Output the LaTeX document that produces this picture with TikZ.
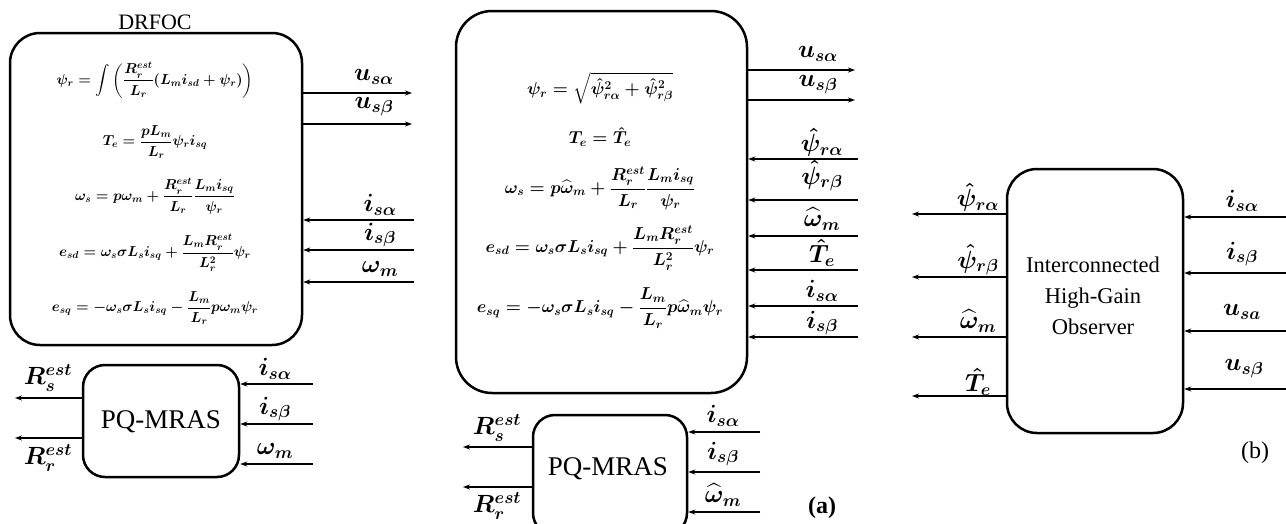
\documentclass[tikz,border=0pt]{standalone}
\usepackage{fontspec}
\setmainfont{Liberation Serif}
\usepackage{amsmath}
\usetikzlibrary{arrows.meta}
\begin{document}
\begin{tikzpicture}[x=1pt,y=-1pt,
 blk/.style={draw, line width=2.5pt, rounded corners=30pt, inner sep=0pt},
 arr/.style={line width=1.9pt, -{Stealth[length=7pt,width=5pt]}},
 lbl/.style={font=\fontsize{24}{26}\selectfont\boldmath, inner sep=0pt},
 eqL/.style={font=\fontsize{14.6}{18}\selectfont\boldmath, inner sep=0pt},
 eqM/.style={font=\fontsize{16.6}{20}\selectfont\boldmath, inner sep=0pt},
 ttl/.style={font=\fontsize{22}{30}\selectfont, inner sep=0pt, align=center},
 pq/.style={font=\fontsize{27}{30}\selectfont, inner sep=0pt},
]
\useasboundingbox (0,0) rectangle (1286,523);
\clip (0,0) rectangle (1286,523);

% ---------------- Left: DRFOC ----------------
\node[blk, minimum width=292pt, minimum height=312pt] (drfoc) at (156,189) {};
\node[ttl] (drfocT) at (155,22) {DRFOC};
\node[eqL] (l1) at (155,80) {$\displaystyle \psi_r=\int\left(\frac{R_r^{est}}{L_r}(L_m i_{sd}+\psi_r)\right)$};
\node[eqL] (l2) at (155,142) {$\displaystyle T_e=\frac{pL_m}{L_r}\psi_r i_{sq}$};
\node[eqL] (l3) at (155,196) {$\displaystyle \omega_s=p\omega_m+\frac{R_r^{est}}{L_r}\frac{L_m i_{sq}}{\psi_r}$};
\node[eqL] (l4) at (155,253) {$\displaystyle e_{sd}=\omega_s\sigma L_s i_{sq}+\frac{L_m R_r^{est}}{L_r^2}\psi_r$};
\node[eqL] (l5) at (155,308) {$\displaystyle e_{sq}=-\omega_s\sigma L_s i_{sq}-\frac{L_m}{L_r}p\omega_m\psi_r$};

\coordinate (Lo1) at (412,93);
\coordinate (Lo2) at (412,124);
\coordinate (Li1) at (414,220);
\coordinate (Li2) at (414,250);
\coordinate (Li3) at (414,282);
\draw[arr] (drfoc.east |- Lo1) -- (Lo1);
\draw[arr] (drfoc.east |- Lo2) -- (Lo2);
\draw[arr] (Li1) -- (drfoc.east |- Li1);
\draw[arr] (Li2) -- (drfoc.east |- Li2);
\draw[arr] (Li3) -- (drfoc.east |- Li3);
\node[lbl] (Lo1t) at (374,77) {$u_{s\alpha}$};
\node[lbl] (Lo2t) at (374,107) {$u_{s\beta}$};
\node[lbl] (Li1t) at (380,205) {$i_{s\alpha}$};
\node[lbl] (Li2t) at (380,235) {$i_{s\beta}$};
\node[lbl] (Li3t) at (380,269) {$\omega_m$};

% ---------------- Left: PQ-MRAS ----------------
\node[blk, rounded corners=22pt, minimum width=156pt, minimum height=112pt] (pqL) at (161,421) {};
\node[pq] (pqLt) at (161,422) {PQ-MRAS};
\coordinate (PLo1) at (15,398);
\coordinate (PLo2) at (15,438);
\draw[arr] (pqL.west |- PLo1) -- (PLo1);
\draw[arr] (pqL.west |- PLo2) -- (PLo2);
\node[lbl] (PLo1t) at (48,378) {$R_s^{est}$};
\node[lbl] (PLo2t) at (48,458) {$R_r^{est}$};
\coordinate (PLi1) at (313,384);
\coordinate (PLi2) at (313,424);
\coordinate (PLi3) at (313,464);
\draw[arr] (PLi1) -- (pqL.east |- PLi1);
\draw[arr] (PLi2) -- (pqL.east |- PLi2);
\draw[arr] (PLi3) -- (pqL.east |- PLi3);
\node[lbl] (PLi1t) at (275,369) {$i_{s\alpha}$};
\node[lbl] (PLi2t) at (275,409) {$i_{s\beta}$};
\node[lbl] (PLi3t) at (275,451) {$\omega_m$};

% ---------------- Middle block ----------------
\node[blk, rounded corners=36pt, minimum width=291pt, minimum height=382pt] (mid) at (601.5,202) {};
\node[eqM] (m1) at (600,88) {$\displaystyle \psi_r=\sqrt{\hat{\psi}_{r\alpha}^2+\hat{\psi}_{r\beta}^2}$};
\node[eqM] (m2) at (600,137) {$\displaystyle T_e=\hat{T}_e$};
\node[eqM] (m3) at (600,188) {$\displaystyle \omega_s=p\widehat{\omega}_m+\frac{R_r^{est}}{L_r}\frac{L_m i_{sq}}{\psi_r}$};
\node[eqM] (m4) at (600,248) {$\displaystyle e_{sd}=\omega_s\sigma L_s i_{sq}+\frac{L_m R_r^{est}}{L_r^2}\psi_r$};
\node[eqM] (m5) at (600,308) {$\displaystyle e_{sq}=-\omega_s\sigma L_s i_{sq}-\frac{L_m}{L_r}p\widehat{\omega}_m\psi_r$};

\coordinate (Mo1) at (855,70);
\coordinate (Mo2) at (855,100);
\draw[arr] (mid.east |- Mo1) -- (Mo1);
\draw[arr] (mid.east |- Mo2) -- (Mo2);
\coordinate (Mi1) at (858,159);
\coordinate (Mi2) at (858,200);
\coordinate (Mi3) at (858,236);
\coordinate (Mi4) at (858,270);
\coordinate (Mi5) at (858,306);
\coordinate (Mi6) at (858,337);
\draw[arr] (Mi1) -- (mid.east |- Mi1);
\draw[arr] (Mi2) -- (mid.east |- Mi2);
\draw[arr] (Mi3) -- (mid.east |- Mi3);
\draw[arr] (Mi4) -- (mid.east |- Mi4);
\draw[arr] (Mi5) -- (mid.east |- Mi5);
\draw[arr] (Mi6) -- (mid.east |- Mi6);
\node[lbl] (Mo1t) at (818,54) {$u_{s\alpha}$};
\node[lbl] (Mo2t) at (818,85) {$u_{s\beta}$};
\node[lbl] (Mi1t) at (822,142) {$\hat{\psi}_{r\alpha}$};
\node[lbl] (Mi2t) at (822,176) {$\hat{\psi}_{r\beta}$};
\node[lbl] (Mi3t) at (822,219) {$\widehat{\omega}_m$};
\node[lbl] (Mi4t) at (822,253) {$\hat{T}_e$};
\node[lbl] (Mi5t) at (822,291) {$i_{s\alpha}$};
\node[lbl] (Mi6t) at (822,323) {$i_{s\beta}$};

% ---------------- Middle: PQ-MRAS ----------------
\node[blk, rounded corners=22pt, minimum width=154pt, minimum height=120pt] (pqM) at (610,475) {};
\node[pq] (pqMt) at (608,469) {PQ-MRAS};
\coordinate (PMo1) at (463,447);
\coordinate (PMo2) at (463,487);
\draw[arr] (pqM.west |- PMo1) -- (PMo1);
\draw[arr] (pqM.west |- PMo2) -- (PMo2);
\node[lbl] (PMo1t) at (497,428) {$R_s^{est}$};
\node[lbl] (PMo2t) at (497,506) {$R_r^{est}$};
\coordinate (PMi1) at (760,432);
\coordinate (PMi2) at (760,472);
\coordinate (PMi3) at (760,512);
\draw[arr] (PMi1) -- (pqM.east |- PMi1);
\draw[arr] (PMi2) -- (pqM.east |- PMi2);
\draw[arr] (PMi3) -- (pqM.east |- PMi3);
\node[lbl] (PMi1t) at (723,416) {$i_{s\alpha}$};
\node[lbl] (PMi2t) at (723,454) {$i_{s\beta}$};
\node[lbl] (PMi3t) at (723,495) {$\widehat{\omega}_m$};
\node[font=\fontsize{24}{26}\selectfont\bfseries, inner sep=0pt] (capA) at (822,508) {(a)};

% ---------------- Right: observer ----------------
\node[blk, minimum width=176pt, minimum height=264pt] (obs) at (1095,301) {};
\node[ttl, font=\fontsize{22.5}{31}\selectfont] (obsT) at (1093,296) {Interconnected\\High-Gain\\Observer};
\coordinate (Oo1) at (912,214);
\coordinate (Oo2) at (912,277);
\coordinate (Oo3) at (912,337);
\coordinate (Oo4) at (912,396);
\draw[arr] (obs.west |- Oo1) -- (Oo1);
\draw[arr] (obs.west |- Oo2) -- (Oo2);
\draw[arr] (obs.west |- Oo3) -- (Oo3);
\draw[arr] (obs.west |- Oo4) -- (Oo4);
\node[lbl] (Oo1t) at (978,197) {$\hat{\psi}_{r\alpha}$};
\node[lbl] (Oo2t) at (978,260) {$\hat{\psi}_{r\beta}$};
\node[lbl] (Oo3t) at (978,321) {$\widehat{\omega}_m$};
\node[lbl] (Oo4t) at (978,382) {$\hat{T}_e$};
\coordinate (Oi1) at (1286,217);
\coordinate (Oi2) at (1286,273);
\coordinate (Oi3) at (1286,331);
\coordinate (Oi4) at (1286,389);
\draw[arr] (Oi1) -- (obs.east |- Oi1);
\draw[arr] (Oi2) -- (obs.east |- Oi2);
\draw[arr] (Oi3) -- (obs.east |- Oi3);
\draw[arr] (Oi4) -- (obs.east |- Oi4);
\node[lbl] (Oi1t) at (1242,201) {$i_{s\alpha}$};
\node[lbl] (Oi2t) at (1242,254) {$i_{s\beta}$};
\node[lbl] (Oi3t) at (1242,312) {$u_{sa}$};
\node[lbl] (Oi4t) at (1244,369) {$u_{s\beta}$};
\node[font=\fontsize{24}{26}\selectfont, inner sep=0pt] (capB) at (1255,453) {(b)};
\end{tikzpicture}
\end{document}
